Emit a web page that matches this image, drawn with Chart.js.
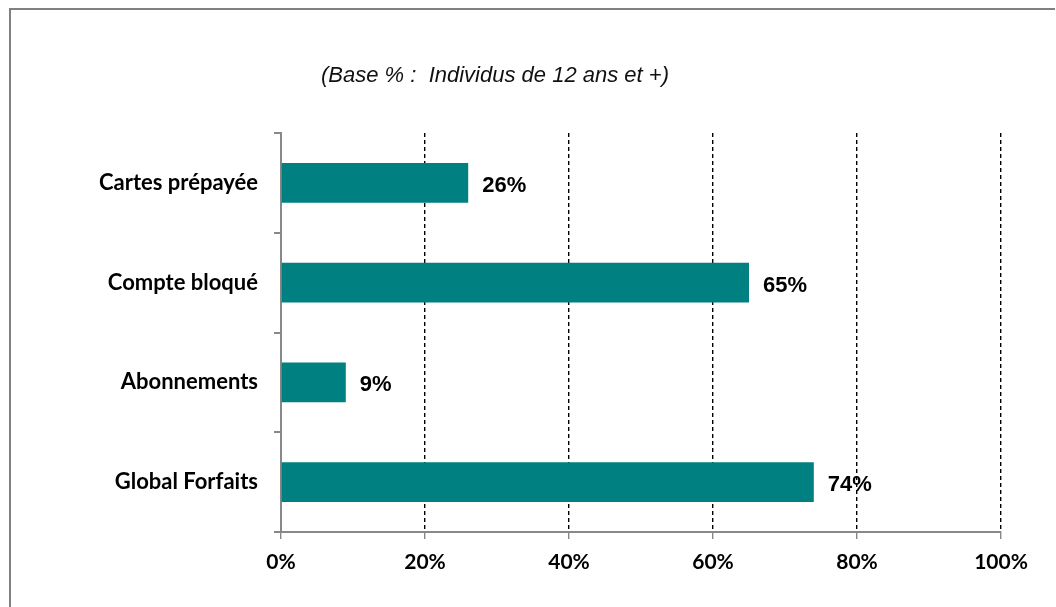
<!DOCTYPE html>
<html>
  <head>
    <title>Forfaits</title>
    <script src="https://cdn.jsdelivr.net/npm/chart.js@4/dist/chart.umd.min.js"></script>
    <style>
      body { margin: 0; background: #fff; }
      #frame { position: absolute; left: 9px; top: 8px; width: 1044px; height: 620px;
               border-top: 2px solid #808080; border-left: 2px solid #808080; }
      #chart { position: absolute; left: 0; top: 0; }
    </style>
  </head>
  <body>
    <div id="frame"></div>
    <canvas id="chart" width="1056" height="607"></canvas>

    <script>
      const categories = ["Cartes prépayée", "Compte bloqué", "Abonnements", "Global Forfaits"];
      const values = [26, 65, 9, 74];
      const xTicks = [0, 20, 40, 60, 80, 100];
      const subtitle = "(Base % :  Individus de 12 ans et +)";

      // subtitle drawn on the canvas, left of centre like the original
      const subtitlePlugin = {
        id: "subtitleText",
        afterDraw(chart) {
          const ctx = chart.ctx;
          ctx.save();
          ctx.font = "italic 22px 'Liberation Sans', Arial";
          ctx.fillStyle = "#111";
          ctx.textAlign = "center";
          ctx.textBaseline = "middle";
          ctx.fillText(subtitle, 495, 76);
          ctx.restore();
        }
      };

      // the % value next to every bar
      const valueLabels = {
        id: "valueLabels",
        afterDatasetsDraw(chart) {
          const ctx = chart.ctx;
          const meta = chart.getDatasetMeta(0);
          ctx.save();
          ctx.font = "bold 22px 'Liberation Sans', Arial";
          ctx.fillStyle = "#000";
          ctx.textAlign = "left";
          ctx.textBaseline = "middle";
          meta.data.forEach((bar, i) => {
            ctx.fillText(values[i] + "%", bar.x + 14, bar.y + 3);
          });
          ctx.restore();
        }
      };

      new Chart(document.getElementById("chart"), {
        type: "bar",
        data: {
          labels: categories,
          datasets: [{
            data: values,
            backgroundColor: "#008080",
            barPercentage: 0.4,
            categoryPercentage: 1
          }]
        },
        options: {
          indexAxis: "y",
          responsive: false,
          animation: false,
          layout: { padding: { left: 0, top: 133, right: 55, bottom: 0 } },
          plugins: { legend: { display: false }, tooltip: { enabled: false } },
          scales: {
            x: {
              min: 0,
              max: 100,
              afterBuildTicks(scale) { scale.ticks = xTicks.map(v => ({ value: v })); },
              afterFit(scale) { scale.height = 75; },
              grid: {
                color: ctx => (ctx.tick && ctx.tick.value === 0) ? "rgba(0,0,0,0)" : "#000",
                lineWidth: 1.4,
                tickColor: "#888",
                tickLength: 7,
                tickBorderDash: []
              },
              border: { color: "#888", width: 2, dash: [4, 3] },
              ticks: {
                callback: v => v + "%",
                color: "#000",
                padding: 11,
                font: { family: "Lato", weight: "bold", size: 21 }
              }
            },
            y: {
              afterFit(scale) { scale.width = 281; },
              grid: {
                drawOnChartArea: false,
                tickColor: "#888",
                tickLength: 7,
                lineWidth: 2
              },
              border: { color: "#888", width: 2 },
              ticks: {
                color: "#000",
                padding: 16,
                font: { family: "Lato", weight: "bold", size: 22 }
              }
            }
          }
        },
        plugins: [subtitlePlugin, valueLabels]
      });
    </script>
  </body>
</html>
